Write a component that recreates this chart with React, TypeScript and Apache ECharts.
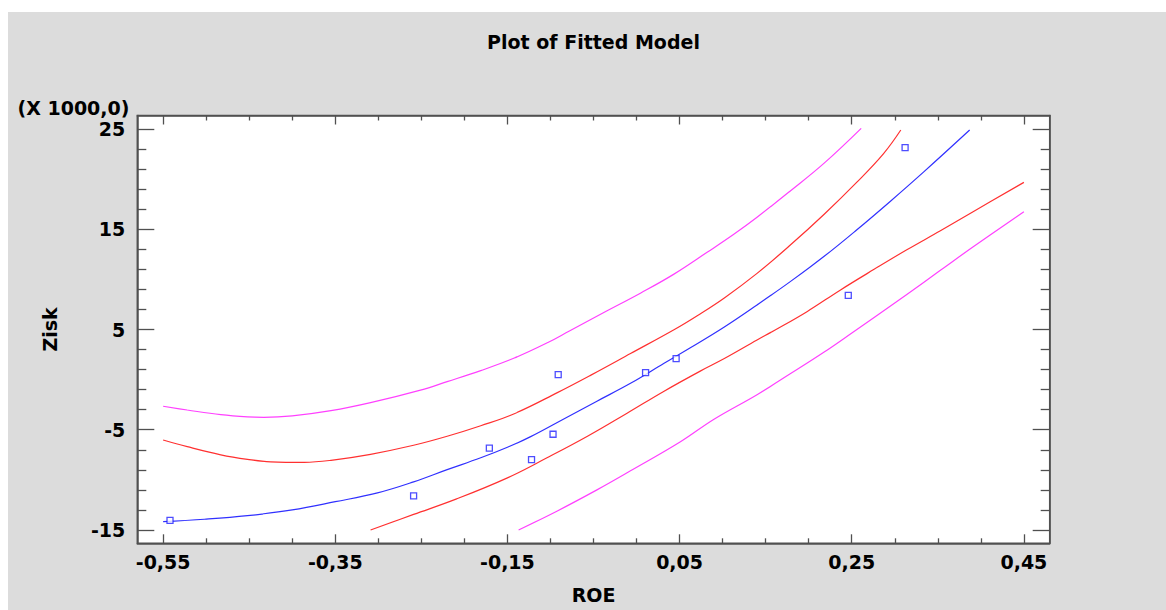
import React, { useEffect, useRef } from "react";
import * as echarts from "echarts";

// Observed data (ROE vs Zisk, Zisk in thousands)
const roeObserved = [-0.542, -0.259, -0.171, -0.122, -0.097, -0.091, 0.0105, 0.046, 0.246, 0.312];
const ziskObserved = [-14.05, -11.6, -6.84, -7.99, -5.45, 0.5, 0.7, 2.1, 8.4, 23.15];

// Fitted model curve
const fittedCurve: [number, number][] = [
  [-0.55, -14.17], [-0.502, -13.93], [-0.452, -13.57], [-0.4, -13.0], [-0.35, -12.18],
  [-0.301, -11.3], [-0.259, -10.2], [-0.22, -8.98], [-0.181, -7.8], [-0.15, -6.75],
  [-0.123, -5.69], [-0.084, -3.9], [-0.046, -2.15], [-0.007, -0.37], [0.032, 1.63],
  [0.063, 3.2], [0.102, 5.25], [0.14, 7.45], [0.179, 9.8], [0.218, 12.3],
  [0.256, 14.95], [0.295, 17.8], [0.334, 20.75], [0.387, 24.9],
];

// Upper / lower confidence limits (red)
const upperConfidence: [number, number][] = [
  [-0.55, -6.02], [-0.522, -6.69], [-0.483, -7.5], [-0.452, -7.95], [-0.425, -8.2],
  [-0.386, -8.25], [-0.355, -8.05], [-0.309, -7.45], [-0.259, -6.55], [-0.22, -5.65],
  [-0.181, -4.6], [-0.142, -3.4], [-0.092, -1.3], [-0.053, 0.45], [-0.007, 2.6],
  [0.044, 5.0], [0.071, 6.4], [0.102, 8.15], [0.14, 10.6], [0.179, 13.45],
  [0.218, 16.5], [0.256, 19.7], [0.287, 22.55], [0.307, 24.9],
];
const lowerConfidence: [number, number][] = [
  [-0.309, -15.0], [-0.259, -13.45], [-0.209, -11.9], [-0.15, -9.8], [-0.104, -7.8],
  [-0.057, -5.65], [-0.011, -3.35], [0.031, -1.2], [0.074, 0.85], [0.102, 2.1],
  [0.14, 3.95], [0.16, 4.9], [0.198, 6.78], [0.237, 8.95], [0.276, 11.0],
  [0.314, 12.95], [0.353, 14.85], [0.392, 16.8], [0.45, 19.68],
];

// Upper / lower prediction limits (magenta)
const upperPrediction: [number, number][] = [
  [-0.55, -2.66], [-0.522, -3.03], [-0.483, -3.5], [-0.452, -3.72], [-0.433, -3.76],
  [-0.4, -3.62], [-0.355, -3.1], [-0.309, -2.3], [-0.251, -1.05], [-0.22, -0.2],
  [-0.181, 0.9], [-0.142, 2.15], [-0.103, 3.7], [-0.078, 4.85], [-0.038, 6.7],
  [0.005, 8.65], [0.043, 10.5], [0.082, 12.7], [0.113, 14.5], [0.14, 16.2],
  [0.179, 18.85], [0.218, 21.6], [0.261, 25.07],
];
const lowerPrediction: [number, number][] = [
  [-0.137, -15.0], [-0.092, -13.1], [-0.046, -11.0], [-0.007, -9.1], [0.051, -6.2],
  [0.09, -3.95], [0.14, -1.5], [0.179, 0.6], [0.218, 2.75], [0.251, 4.7],
  [0.276, 6.2], [0.314, 8.5], [0.353, 10.9], [0.392, 13.3], [0.45, 16.75],
];

// Ticks
const xMajorTicks = [-0.55, -0.35, -0.15, 0.05, 0.25, 0.45];
const xMinorTicks = [-0.5, -0.45, -0.4, -0.3, -0.25, -0.2, -0.1, -0.05, 0, 0.1, 0.15, 0.2, 0.3, 0.35, 0.4];
const yMajorTicks = [-15, -5, 5, 15, 25];
const yMinorTicks = [-13, -11, -9, -7, -3, -1, 1, 3, 7, 9, 11, 13, 17, 19, 21, 23];

const X_MIN = -0.58;
const X_MAX = 0.48;
const Y_MIN = -16.33;
const Y_MAX = 26.35;

const FONT = "DejaVu Sans";
const TICK_COLOR = "#505050";

export default function App() {
  const ref = useRef<HTMLDivElement>(null);

  useEffect(() => {
    if (!ref.current) return;
    const chart = echarts.init(ref.current, undefined, { renderer: "svg" });

    const fmtX = (v: number) => v.toFixed(2).replace(".", ",");
    const fmtY = (v: number) => String(Math.round(v));

    const baseX = (position: "bottom" | "top", ticks: number[], len: number, labels: boolean, line: boolean) => ({
      type: "value",
      position,
      min: X_MIN,
      max: X_MAX,
      axisLine: { show: line, onZero: false, lineStyle: { color: TICK_COLOR, width: 1.5 } },
      axisTick: { show: true, inside: true, length: len, customValues: ticks, lineStyle: { color: TICK_COLOR, width: 1.3 } },
      axisLabel: labels
        ? {
            show: true,
            customValues: xMajorTicks,
            formatter: fmtX,
            fontFamily: FONT,
            fontWeight: "bold",
            fontSize: 19,
            color: "#000",
            margin: 9,
          }
        : { show: false },
      splitLine: { show: false },
    });

    const baseY = (position: "left" | "right", ticks: number[], len: number, labels: boolean, line: boolean) => ({
      type: "value",
      position,
      min: Y_MIN,
      max: Y_MAX,
      axisLine: { show: line, onZero: false, lineStyle: { color: TICK_COLOR, width: 1.5 } },
      axisTick: { show: true, inside: true, length: len, customValues: ticks, lineStyle: { color: TICK_COLOR, width: 1.3 } },
      axisLabel: labels
        ? {
            show: true,
            customValues: yMajorTicks,
            formatter: fmtY,
            fontFamily: FONT,
            fontWeight: "bold",
            fontSize: 19,
            color: "#000",
            margin: 12,
          }
        : { show: false },
      splitLine: { show: false },
    });

    const xAxes: any[] = [
      {
        ...baseX("bottom", xMajorTicks, 9, true, true),
        name: "ROE",
        nameLocation: "middle",
        nameGap: 42,
        nameTextStyle: { fontFamily: FONT, fontWeight: "bold", fontSize: 19, color: "#000" },
      },
      baseX("bottom", xMinorTicks, 5, false, false),
      baseX("top", xMajorTicks, 9, false, true),
      baseX("top", xMinorTicks, 5, false, false),
    ];
    const yAxes: any[] = [
      {
        ...baseY("left", yMajorTicks, 17, true, true),
        name: "Zisk",
        nameLocation: "middle",
        nameGap: 78,
        nameRotate: 90,
        nameTextStyle: { fontFamily: FONT, fontWeight: "bold", fontSize: 19, color: "#000" },
      },
      baseY("left", yMinorTicks, 9, false, false),
      baseY("right", yMajorTicks, 17, false, true),
      baseY("right", yMinorTicks, 9, false, false),
    ];

    const lineSeries = (name: string, data: [number, number][], color: string) => ({
      name,
      type: "line",
      data,
      xAxisIndex: 0,
      yAxisIndex: 0,
      showSymbol: false,
      smooth: 0.4,
      lineStyle: { color, width: 1.2 },
      itemStyle: { color },
      z: 2,
    });

    chart.setOption({
      animation: false,
      backgroundColor: "#dcdcdc",
      grid: {
        left: 129.3,
        top: 103.5,
        width: 912.4,
        height: 427.8,
        show: true,
        backgroundColor: "#ffffff",
        borderColor: TICK_COLOR,
        borderWidth: 1.5,
        containLabel: false,
      },
      graphic: [
        {
          type: "text",
          style: {
            text: "Plot of Fitted Model",
            x: 585.5,
            y: 30,
            align: "center",
            verticalAlign: "middle",
            fontFamily: FONT,
            fontWeight: "bold",
            fontSize: 19,
            fill: "#000",
          },
        },
        {
          type: "text",
          style: {
            text: "(X 1000,0)",
            x: 9.5,
            y: 95.5,
            align: "left",
            verticalAlign: "middle",
            fontFamily: FONT,
            fontWeight: "bold",
            fontSize: 19,
            fill: "#000",
          },
        },
      ],
      xAxis: xAxes,
      yAxis: yAxes,
      series: [
        lineSeries("Upper prediction limit", upperPrediction, "#ff40ff"),
        lineSeries("Upper confidence limit", upperConfidence, "#ff3030"),
        lineSeries("Fitted model", fittedCurve, "#3030ff"),
        lineSeries("Lower confidence limit", lowerConfidence, "#ff3030"),
        lineSeries("Lower prediction limit", lowerPrediction, "#ff40ff"),
        {
          name: "Observed",
          type: "scatter",
          xAxisIndex: 0,
          yAxisIndex: 0,
          symbol: "rect",
          symbolSize: 6,
          data: roeObserved.map((x, i) => [x, ziskObserved[i]]),
          itemStyle: { color: "#ffffff", borderColor: "#2020ff", borderWidth: 1.3 },
          z: 3,
        },
      ],
    });

    return () => chart.dispose();
  }, []);

  return (
    <div
      ref={ref}
      style={{ position: "fixed", left: 8, top: 12, width: 1158, height: 598 }}
    />
  );
}
